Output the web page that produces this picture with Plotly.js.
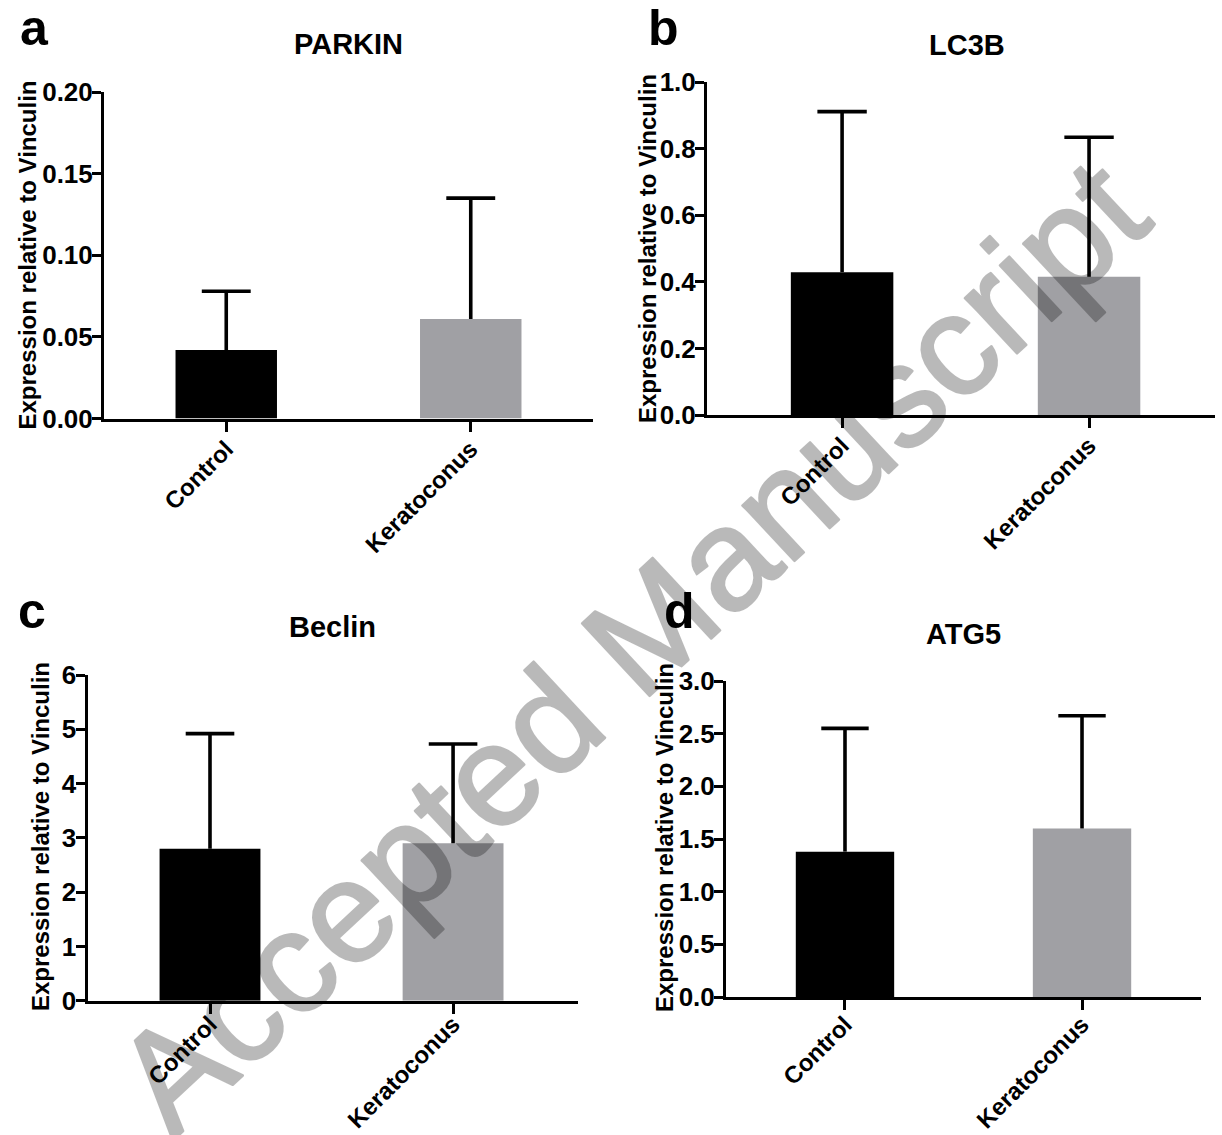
<!DOCTYPE html>
<html>
<head>
<meta charset="utf-8">
<script src="https://cdn.plot.ly/plotly-3.0.1.min.js"></script>
<style>
  html, body { margin: 0; padding: 0; background: #ffffff; }
  #chart { width: 1222px; height: 1135px; }
</style>
</head>
<body>
<div id="chart"></div>
<script>
// ---------------- data ----------------
const categories = ['Control', 'Keratoconus'];
const panelTitles = ['PARKIN', 'LC3B', 'Beclin', 'ATG5'];
const panelLetters = ['a', 'b', 'c', 'd'];
const yAxisTitle = 'Expression relative to Vinculin';

const parkinMean = [0.042, 0.061];
const parkinSD   = [0.036, 0.074];
const lc3bMean   = [0.429, 0.415];
const lc3bSD     = [0.482, 0.419];
const beclinMean = [2.80, 2.90];
const beclinSD   = [2.12, 1.83];
const atg5Mean   = [1.38, 1.60];
const atg5SD     = [1.17, 1.07];

const watermarkText = 'Accepted Manuscript';

// ---------------- layout helpers ----------------
const W = 1222, H = 1135;
const px = v => v / W;
const py = v => 1 - v / H;

const FONT = '"Liberation Sans", Arial, Helvetica, sans-serif';
const barColors = ['#000000', '#a0a0a4'];
const capHalf = 0.1;     // cap half width in category units
const barWidth = 0.415;

const panels = [
  { mean: parkinMean, sd: parkinSD, xd: [104, 593], yd: [92, 418.6], xr: [-0.5, 1.5],   yr: [0, 0.2], dtick: 0.05, fmt: '.2f',
    title: [348, 43.6], ytitle: [27.5, 255], letter: [18, 46], xstand: -6 },
  { mean: lc3bMean, sd: lc3bSD, xd: [707, 1215], yd: [82, 415], xr: [-0.547, 1.51], yr: [0, 1.0], dtick: 0.2, fmt: '.1f',
    title: [967, 44.6], ytitle: [647, 249], letter: [646, 46], xstand: -6 },
  { mean: beclinMean, sd: beclinSD, xd: [87.5, 578], yd: [675, 1000.7], xr: [-0.504, 1.514], yr: [0, 6], dtick: 1, fmt: 'd',
    title: [332, 626.8], ytitle: [40, 837], letter: [16, 628], xstand: -13 },
  { mean: atg5Mean, sd: atg5SD, xd: [726, 1201], yd: [681, 997], xr: [-0.502, 1.502], yr: [0, 3.0], dtick: 0.5, fmt: '.1f',
    title: [963, 634], ytitle: [664, 838], letter: [662, 628], xstand: -9 }
];

const traces = [];
const layout = {
  width: W, height: H,
  margin: { l: 0, r: 0, t: 0, b: 0, pad: 0 },
  paper_bgcolor: '#ffffff',
  plot_bgcolor: 'rgba(0,0,0,0)',
  showlegend: false,
  font: { family: FONT, color: '#000000', size: 24, weight: 'bold' },
  annotations: []
};

const catIdx = categories.map((c, i) => i);

panels.forEach((p, k) => {
  const n = k === 0 ? '' : String(k + 1);
  const xa = 'x' + n, ya = 'y' + n;

  // bars
  traces.push({
    type: 'bar', x: catIdx, y: p.mean, width: barWidth,
    marker: { color: barColors, line: { width: 0 } },
    xaxis: xa, yaxis: ya, hoverinfo: 'skip'
  });

  // upper SD error bars (stem + cap), built from mean and sd
  const ex = [], ey = [];
  catIdx.forEach(i => {
    const top = p.mean[i] + p.sd[i];
    ex.push(i, i, null, i - capHalf, i + capHalf, null);
    ey.push(p.mean[i], top, null, top, top, null);
  });
  traces.push({
    type: 'scatter', mode: 'lines', x: ex, y: ey,
    line: { color: '#000000', width: 3.6 },
    xaxis: xa, yaxis: ya, hoverinfo: 'skip', connectgaps: false
  });

  layout['xaxis' + n] = {
    domain: [px(p.xd[0]), px(p.xd[1])],
    anchor: ya, range: p.xr, fixedrange: true,
    tickmode: 'array', tickvals: catIdx, ticktext: categories,
    tickangle: -45, ticklabelstandoff: p.xstand,
    showline: true, linecolor: '#000', linewidth: 3,
    ticks: 'outside', ticklen: 10, tickwidth: 3, tickcolor: '#000',
    showgrid: false, zeroline: false,
    tickfont: { family: FONT, size: 24, color: '#000', weight: 'bold' }
  };
  layout['yaxis' + n] = {
    domain: [py(p.yd[1]), py(p.yd[0])],
    anchor: xa, range: p.yr, fixedrange: true,
    tickmode: 'linear', tick0: 0, dtick: p.dtick, tickformat: p.fmt,
    ticklabelstandoff: -6,
    showline: true, linecolor: '#000', linewidth: 3,
    ticks: 'outside', ticklen: 9, tickwidth: 3, tickcolor: '#000',
    showgrid: false, zeroline: false,
    tickfont: { family: FONT, size: 26, color: '#000', weight: 'bold' }
  };

  // panel title
  layout.annotations.push({
    xref: 'paper', yref: 'paper', x: px(p.title[0]), y: py(p.title[1]),
    xanchor: 'center', yanchor: 'middle', showarrow: false,
    text: panelTitles[k],
    font: { family: FONT, size: 29, color: '#000', weight: 'bold' }
  });
  // y-axis title
  layout.annotations.push({
    xref: 'paper', yref: 'paper', x: px(p.ytitle[0]), y: py(p.ytitle[1]),
    xanchor: 'center', yanchor: 'middle', showarrow: false, textangle: -90,
    text: yAxisTitle,
    font: { family: FONT, size: 24, color: '#000', weight: 'bold' }
  });
  // panel letter (baseline-based placement)
  layout.annotations.push({
    xref: 'paper', yref: 'paper', x: px(p.letter[0]), y: py(p.letter[1] - 0.35 * 50),
    xanchor: 'left', yanchor: 'middle', showarrow: false,
    text: panelLetters[k],
    font: { family: FONT, size: 50, color: '#000', weight: 'bold' }
  });
});

// watermark (group opacity so fill + stroke blend as one layer)
layout.annotations.push({
  xref: 'paper', yref: 'paper', x: px(630), y: py(646),
  xanchor: 'center', yanchor: 'middle', showarrow: false, textangle: -43,
  text: watermarkText, opacity: 0.27,
  font: { family: FONT, size: 144, color: '#000000', weight: 'normal' }
});
const wmIndex = layout.annotations.length - 1;

Plotly.newPlot('chart', traces, layout, { staticPlot: true, displayModeBar: false }).then(() => {
  const t = document.querySelector('#chart g.annotation[data-index="' + wmIndex + '"] text.annotation-text');
  if (t) {
    t.style.stroke = '#000000';
    t.style.strokeWidth = '2.5px';
    t.style.strokeLinejoin = 'round';
  }
});
</script>
</body>
</html>
